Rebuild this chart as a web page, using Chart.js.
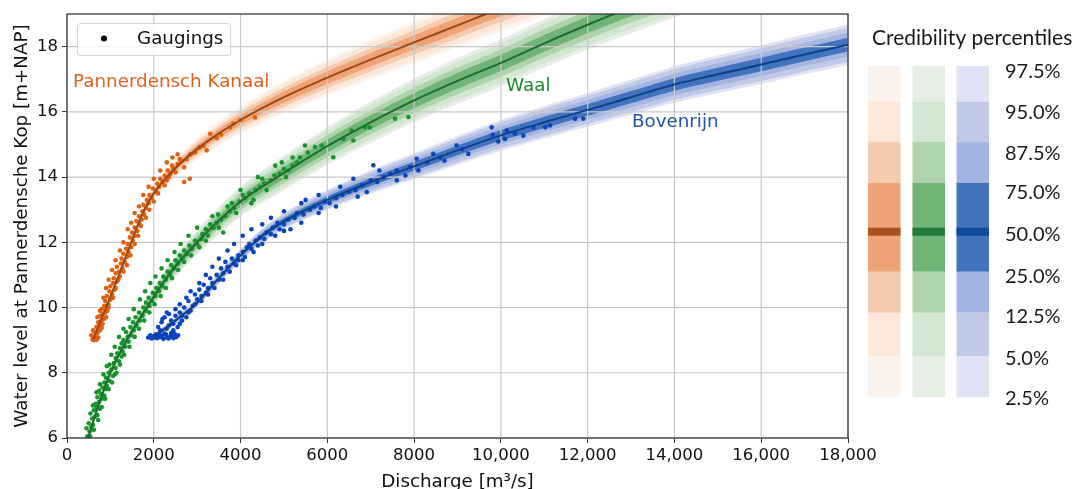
<!DOCTYPE html>
<html>
<head>
<meta charset="utf-8">
<title>Rating curves at Pannerdensche Kop</title>
<script src="https://cdn.jsdelivr.net/npm/chart.js@4.4.1/dist/chart.umd.min.js"></script>
<style>
  html, body { margin: 0; padding: 0; background: #fff; overflow: hidden; }
  canvas { display: block; }
</style>
</head>
<body>
<canvas id="ratingChart" width="1077" height="489"></canvas>
<script>
// ---- axis ticks ----
const xTicks = [0, 2000, 4000, 6000, 8000, 10000, 12000, 14000, 16000, 18000];
const xTickLabels = ['0', '2000', '4000', '6000', '8000', '10,000', '12,000', '14,000', '16,000', '18,000'];
const yTicks = [6, 8, 10, 12, 14, 16, 18];
const yTickLabels = ['6', '8', '10', '12', '14', '16', '18'];

// ---- median rating curves (discharge m3/s, water level m+NAP) ----
const qPK = [600, 900, 1200, 1480, 1750, 2000, 2300, 2800, 3400, 4000, 5000, 6000, 7000, 8000, 9000, 9600, 10200, 11000, 11600];
const hPK = [9.0, 10.0, 11.0, 12.0, 12.9, 13.5, 14.0, 14.65, 15.25, 15.75, 16.45, 17.05, 17.6, 18.13, 18.65, 18.97, 19.28, 19.68, 19.98];
const qWaal = [490, 700, 1000, 1400, 1840, 2400, 3000, 4000, 4850, 6000, 7000, 8000, 9000, 10000, 11000, 12000, 12600, 13200, 14000, 14800];
const hWaal = [6.0, 6.9, 8.0, 9.05, 10.0, 11.1, 12.0, 13.25, 14.0, 14.95, 15.68, 16.35, 16.95, 17.5, 18.1, 18.67, 19.0, 19.3, 19.72, 20.1];
const qBR = [2000, 2500, 3000, 3500, 4000, 4500, 5000, 6000, 7000, 8000, 9000, 10000, 11000, 12000, 13000, 14000, 15000, 16000, 17000, 18000];
const hBR = [9.1, 9.6, 10.15, 10.9, 11.6, 12.2, 12.65, 13.3, 13.85, 14.33, 14.82, 15.28, 15.68, 16.06, 16.45, 16.84, 17.15, 17.45, 17.76, 18.06];

// half width of the 2.5%-97.5% credibility interval at each curve point (m)
const spreadPK = [0.08, 0.1, 0.12, 0.14, 0.17, 0.2, 0.24, 0.3, 0.36, 0.42, 0.5, 0.56, 0.6, 0.64, 0.68, 0.7, 0.72, 0.74, 0.75];
const spreadWaal = [0.1, 0.12, 0.15, 0.2, 0.26, 0.32, 0.38, 0.46, 0.52, 0.58, 0.63, 0.67, 0.7, 0.72, 0.74, 0.76, 0.78, 0.8, 0.82, 0.84];
const spreadBR = [0.1, 0.12, 0.14, 0.17, 0.2, 0.23, 0.26, 0.31, 0.36, 0.4, 0.44, 0.47, 0.5, 0.52, 0.54, 0.56, 0.58, 0.6, 0.61, 0.62];

// credibility intervals, outer to inner, with their normal quantiles
const percentileLabels = ['97.5%', '95.0%', '87.5%', '75.0%', '50.0%', '25.0%', '12.5%', '5.0%', '2.5%'];
const intervalZ = [1.96, 1.645, 1.15, 0.674];

// ---- gaugings [discharge, water level] ----
const gaugingsPK = [
  [590, 9.02], [620, 9.0], [650, 9.04], [680, 9.01], [700, 9.06], [610, 9.1], [660, 9.12], [720, 9.08],
  [640, 9.25], [700, 9.22], [760, 9.3], [680, 9.4], [740, 9.45], [800, 9.38], [720, 9.55],
  [790, 9.6], [850, 9.65], [760, 9.75], [820, 9.8], [880, 9.85], [800, 9.95], [930, 9.9], [860, 10.05],
  [950, 10.1], [880, 10.2], [1000, 10.25], [920, 10.35], [1040, 10.4], [980, 10.5],
  [1100, 10.55], [1000, 10.65], [1060, 10.75], [1150, 10.8], [1080, 10.9], [1220, 10.95], [1120, 11.05],
  [1200, 11.1], [1280, 11.2], [1150, 11.25], [1240, 11.35], [1330, 11.4], [1260, 11.5],
  [1380, 11.55], [1300, 11.65], [1420, 11.7], [1360, 11.8], [1480, 11.85], [1400, 11.95],
  [1520, 12.05], [1450, 12.15], [1560, 12.2], [1500, 12.3], [1620, 12.35], [1560, 12.45],
  [1680, 12.55], [1600, 12.65], [1720, 12.7], [1660, 12.8], [1780, 12.85], [1740, 12.95],
  [1820, 13.05], [1760, 13.15], [1880, 13.2], [1840, 13.3], [1950, 13.35], [1900, 13.45],
  [2050, 13.55], [1980, 13.65], [2120, 13.7], [2080, 13.8], [2200, 13.85], [2150, 13.95], [2300, 13.9],
  [2250, 14.05], [2380, 14.1], [2320, 14.2], [2450, 14.25], [2420, 14.35], [2550, 14.4], [2430, 14.6],
  [2700, 13.85], [2830, 13.95],
  [2650, 14.5], [2760, 14.55], [2850, 14.7], [2950, 14.75], [3050, 14.9], [3150, 14.95], [3220, 14.82], [3060, 14.92],
  [3300, 15.33], [3450, 15.2], [3550, 15.3], [3760, 15.53], [3830, 15.63], [4000, 15.75], [4330, 15.83],
  [560, 9.15], [600, 9.3], [820, 9.5], [700, 9.7], [900, 9.7], [760, 9.9], [960, 10.0], [840, 10.3],
  [1060, 10.3], [900, 10.6], [1120, 10.6], [960, 10.85], [1180, 10.85], [1040, 11.15], [1300, 11.1],
  [1120, 11.45], [1380, 11.3], [1220, 11.75], [1460, 11.6], [1300, 12.0], [1560, 11.95], [1400, 12.4],
  [1640, 12.2], [1480, 12.6], [1700, 12.5], [1560, 12.9], [1820, 12.75], [1660, 13.1], [1900, 13.0],
  [1760, 13.45], [2000, 13.25], [1880, 13.7], [2100, 13.5], [2000, 13.95], [2250, 13.75], [2150, 14.2],
  [2350, 14.0], [2300, 14.45], [2500, 14.15], [2600, 14.55], [2550, 14.7], [2700, 14.3]
];
const gaugingsWaal = [
  [470, 6.05], [520, 6.2], [560, 6.35], [500, 6.45], [600, 6.4],
  [580, 6.6], [640, 6.65], [700, 6.7], [620, 6.85], [680, 6.95], [760, 6.9],
  [660, 7.05], [740, 7.1], [800, 7.2], [700, 7.25], [780, 7.35], [860, 7.3], [740, 7.45], [900, 7.5],
  [820, 7.55], [920, 7.6], [860, 7.7], [980, 7.75], [900, 7.85], [1060, 7.9], [960, 8.0], [1100, 7.95],
  [1020, 8.1], [1120, 8.15], [980, 8.25], [1080, 8.3], [1200, 8.35], [1120, 8.45], [1260, 8.5],
  [1160, 8.6], [1280, 8.65], [1220, 8.75], [1340, 8.8], [1260, 8.9], [1420, 8.95], [1300, 9.0],
  [1400, 9.1], [1480, 9.15], [1360, 9.25], [1540, 9.3], [1460, 9.4], [1600, 9.45], [1520, 9.55],
  [1680, 9.6], [1580, 9.7], [1740, 9.75], [1660, 9.85], [1820, 9.9], [1760, 10.0], [1900, 10.05],
  [1820, 10.15], [1960, 10.2], [1880, 10.3], [2040, 10.35], [1980, 10.45], [2120, 10.5],
  [2060, 10.6], [2200, 10.65], [2140, 10.75], [2280, 10.85], [2220, 10.95], [2380, 11.0],
  [2320, 11.1], [2460, 11.2], [2400, 11.3], [2560, 11.35], [2500, 11.45], [2660, 11.5],
  [2600, 11.6], [2760, 11.65], [2700, 11.75], [2880, 11.8], [2820, 11.9], [3000, 11.95], [3100, 12.1],
  [2950, 12.05], [3120, 12.25], [3250, 12.2], [3200, 12.4], [3380, 12.45], [3300, 12.55],
  [3450, 12.6], [3550, 12.7], [3480, 12.85], [3650, 12.8], [3750, 12.95], [3600, 12.3],
  [3850, 13.05], [3800, 13.2], [3980, 13.25], [4100, 13.35], [4050, 13.45], [4200, 13.5], [4300, 13.3],
  [4350, 13.6], [4450, 13.7], [4550, 13.8], [4500, 13.95], [4700, 13.9], [4780, 14.05],
  [4900, 14.1], [5000, 14.25], [5100, 14.2], [5200, 14.35], [4950, 14.45], [5300, 14.45],
  [5370, 14.6], [5485, 14.97], [5716, 14.92], [5870, 14.97], [5550, 14.75], [6137, 14.61],
  [6370, 15.17], [6600, 15.12], [6560, 15.43], [6870, 15.53], [6980, 15.53], [7560, 15.79], [7870, 15.84],
  [530, 6.05], [450, 6.3], [620, 6.25], [540, 6.75], [720, 6.55], [600, 7.0], [800, 6.95], [680, 7.4],
  [880, 7.2], [760, 7.65], [960, 7.5], [840, 7.95], [1040, 7.7], [920, 8.2], [1140, 8.0], [1020, 8.55],
  [1220, 8.25], [1100, 8.8], [1320, 8.55], [1200, 9.1], [1440, 8.8], [1300, 9.35], [1560, 9.1], [1420, 9.65],
  [1660, 9.35], [1540, 9.95], [1780, 9.6], [1680, 10.25], [1900, 9.85], [1800, 10.5], [2020, 10.1], [1920, 10.75],
  [2160, 10.35], [2040, 10.95], [2280, 10.6], [2180, 11.2], [2420, 10.9], [2320, 11.45], [2560, 11.15], [2480, 11.7],
  [2700, 11.4], [2620, 11.95], [2860, 11.6], [2800, 12.2], [3050, 11.85], [3000, 12.45], [3200, 12.05], [3350, 12.8],
  [3500, 12.45], [3700, 13.1], [3900, 12.9], [4000, 13.6], [4250, 13.2], [4400, 14.0], [4600, 13.6], [4800, 14.35],
  [5050, 14.0], [5200, 14.6]
];
const gaugingsBR = [
  [1870, 9.08], [1950, 9.05], [2000, 9.12], [2080, 9.06], [2150, 9.1], [2220, 9.04], [2300, 9.08],
  [2380, 9.12], [2450, 9.06], [2520, 9.1], [2050, 9.18], [2250, 9.2], [2400, 9.22],
  [2150, 9.3], [2300, 9.35], [2450, 9.3], [2550, 9.4], [2350, 9.45], [2600, 9.5], [2180, 9.55],
  [2250, 9.7], [2400, 9.6], [2650, 9.6], [2500, 9.75], [2750, 9.7], [2600, 9.85], [2850, 9.9], [2700, 10.0], [2300, 9.85],
  [2900, 10.05], [2800, 10.2], [3000, 10.25], [2950, 10.4], [3100, 10.35], [3200, 10.45], [3050, 10.55],
  [3250, 10.6], [3150, 10.7], [3350, 10.75], [3300, 10.9], [3500, 10.85], [3450, 11.0],
  [3600, 11.05], [3550, 11.2], [3700, 11.25], [3650, 11.4], [3850, 11.35], [3800, 11.5], [3950, 11.45],
  [3950, 11.6], [4050, 11.7], [4100, 11.55], [4150, 11.85], [4250, 11.8], [4200, 11.95], [4400, 11.9],
  [4350, 12.05], [4450, 12.15], [4550, 12.1], [4600, 12.3], [4700, 12.25], [4750, 12.45], [4900, 12.4],
  [4850, 12.6], [5000, 12.55], [5100, 12.7], [5250, 12.75], [5300, 12.9], [5450, 12.85], [5600, 13.0], [5150, 12.4],
  [5700, 13.1], [5850, 13.05], [5950, 13.25], [6050, 13.2], [6200, 13.35], [6350, 13.45], [5500, 13.3],
  [6500, 13.55], [6650, 13.6], [6800, 13.75], [6910, 13.54], [7000, 13.9], [7150, 13.85], [6600, 13.95],
  [7300, 14.0], [7450, 14.1], [7060, 14.36], [7600, 14.2], [7905, 14.31], [8058, 14.56], [7800, 14.05],
  [8300, 14.45], [8443, 14.71], [8600, 14.6], [8980, 14.97], [9250, 14.71], [9100, 14.85],
  [9788, 15.53], [9810, 15.3], [9940, 15.09], [10095, 15.17], [10134, 15.43], [10325, 15.33],
  [10517, 15.27], [10747, 15.53], [11023, 15.53], [11130, 15.58], [11710, 15.79], [11900, 15.79],
  [1920, 9.15], [2020, 9.08], [2120, 9.16], [2200, 9.14], [2280, 9.18], [2340, 9.05], [2420, 9.16], [2480, 9.2],
  [2560, 9.15], [2100, 9.4], [2200, 9.65], [2350, 9.8], [2450, 9.5], [2500, 9.95], [2650, 9.75], [2600, 10.1],
  [2800, 9.85], [2750, 10.3], [2950, 10.1], [2850, 10.5], [3100, 10.2], [3050, 10.75], [3250, 10.4], [3200, 11.0],
  [3400, 10.6], [3350, 11.25], [3600, 10.85], [3500, 11.5], [3750, 11.1], [3700, 11.75], [3900, 11.3], [3850, 11.95],
  [4050, 11.45], [4050, 12.2], [4300, 11.7], [4250, 12.4], [4500, 11.95], [4500, 12.55], [4800, 12.2], [4700, 12.75],
  [5000, 12.35], [5000, 12.95], [5400, 12.6], [5400, 13.2], [5800, 12.9], [5800, 13.45], [6200, 13.1], [6300, 13.7],
  [6700, 13.4], [7200, 14.2], [7600, 13.9], [8100, 14.2], [8700, 14.5]
];

// ---- styles ----
const FONT = 'DejaVu Sans';
const LEGEND_FONT = 'Lato';
const rivers = [
  { name: 'Pannerdensch Kanaal', q: qPK, h: hPK, spread: spreadPK, gaugings: gaugingsPK,
    line: '#9c4812', point: '#e0600f', text: '#e2621b',
    bands: ['#fdf3ed', '#fde7d9', '#f4cbae', '#eea476'], legendMedian: '#a8531f' },
  { name: 'Waal', q: qWaal, h: hWaal, spread: spreadWaal, gaugings: gaugingsWaal,
    line: '#1c6e2e', point: '#17952c', text: '#1f8a2b',
    bands: ['#e4eee3', '#d3e6d1', '#afd3ad', '#70b476'], legendMedian: '#217a3a' },
  { name: 'Bovenrijn', q: qBR, h: hBR, spread: spreadBR, gaugings: gaugingsBR,
    line: '#0c3f8c', point: '#0a45bf', text: '#2254a8',
    bands: ['#e0e3f6', '#c0c9e5', '#a3b5e0', '#4373bd'], legendMedian: '#0b4b9a' }
];
// where the river names sit, in data units
const nameAnchors = [[140, 16.9], [10120, 16.77], [13020, 15.67]];

const toXY = (xs, ys) => xs.map((x, i) => ({ x: x, y: ys[i] }));

const datasets = [];
// median lines on top
rivers.forEach(r => {
  datasets.push({
    data: toXY(r.q, r.h), borderColor: r.line, borderWidth: 2, pointRadius: 0,
    fill: false, cubicInterpolationMode: 'monotone'
  });
});
// gaugings
rivers.forEach(r => {
  datasets.push({
    data: r.gaugings.map(p => ({ x: p[0], y: p[1] })), showLine: false,
    pointRadius: 2.3, pointBackgroundColor: r.point, pointBorderWidth: 0, fill: false
  });
});
// credibility bands, innermost first so that they end up drawn last
const firstBand = datasets.length;
for (let k = intervalZ.length - 1; k >= 0; k--) {
  rivers.forEach(r => {
    const f = intervalZ[k] / intervalZ[0];
    datasets.push({
      data: toXY(r.q, r.h.map((h, i) => h + r.spread[i] * f)),
      borderWidth: 0, pointRadius: 0, fill: '+1', backgroundColor: r.bands[k],
      cubicInterpolationMode: 'monotone'
    });
    datasets.push({
      data: toXY(r.q, r.h.map((h, i) => h - r.spread[i] * f)),
      borderWidth: 0, pointRadius: 0, fill: false, cubicInterpolationMode: 'monotone'
    });
  });
}

// grid goes over the bands but under points and lines
const gridPlugin = {
  id: 'gridOverBands',
  afterDatasetDraw(chart, args) {
    if (args.index !== firstBand) return;
    const { ctx, chartArea: a, scales: { x, y } } = chart;
    ctx.save();
    ctx.strokeStyle = '#c9c9c9';
    ctx.lineWidth = 1.2;
    ctx.beginPath();
    xTicks.forEach(v => {
      const px = x.getPixelForValue(v);
      ctx.moveTo(px, a.top); ctx.lineTo(px, a.bottom);
    });
    yTicks.forEach(v => {
      const py = y.getPixelForValue(v);
      ctx.moveTo(a.left, py); ctx.lineTo(a.right, py);
    });
    ctx.stroke();
    ctx.restore();
  }
};

// frame, river names, gaugings legend and the percentile key
const decorPlugin = {
  id: 'decor',
  afterDraw(chart) {
    const { ctx, chartArea: a, scales: { x, y } } = chart;
    ctx.save();
    // axes frame
    ctx.strokeStyle = '#333';
    ctx.lineWidth = 1.25;
    ctx.strokeRect(a.left, a.top, a.right - a.left, a.bottom - a.top);

    // river names
    ctx.font = '18.3px "' + FONT + '"';
    ctx.textBaseline = 'middle';
    ctx.textAlign = 'left';
    rivers.forEach((r, i) => {
      ctx.fillStyle = r.text;
      ctx.fillText(r.name, x.getPixelForValue(nameAnchors[i][0]), y.getPixelForValue(nameAnchors[i][1]));
    });

    // gaugings legend box
    ctx.beginPath();
    ctx.roundRect(77.5, 23.5, 153, 32, 3);
    ctx.fillStyle = 'rgba(255,255,255,0.8)';
    ctx.fill();
    ctx.strokeStyle = '#d4d4d4';
    ctx.lineWidth = 1;
    ctx.stroke();
    ctx.beginPath();
    ctx.arc(104, 38.5, 3, 0, Math.PI * 2);
    ctx.fillStyle = '#000';
    ctx.fill();
    ctx.fillStyle = '#111';
    ctx.fillText('Gaugings', 137, 39);

    // percentile key
    ctx.fillStyle = '#1a1a1a';
    ctx.font = '21px "' + LEGEND_FONT + '"';
    ctx.fillText('Credibility percentiles', 872, 38);
    ctx.font = '20px "' + LEGEND_FONT + '"';
    const colX = [868, 912.5, 956.5];
    const colW = 32.5;
    const rows = [[66, 101.7, 356, 397.3], [101.7, 141.7, 312.7, 356], [141.7, 182.7, 271.7, 312.7], [182.7, 271.7]];
    rivers.forEach((r, c) => {
      rows.forEach((rw, k) => {
        ctx.fillStyle = r.bands[k];
        ctx.fillRect(colX[c], rw[0], colW, rw[1] - rw[0]);
        if (rw.length === 4) ctx.fillRect(colX[c], rw[2], colW, rw[3] - rw[2]);
      });
      ctx.fillStyle = r.legendMedian;
      ctx.fillRect(colX[c], 227.7, colW, 8);
    });
    const labelY = [71.7, 113, 154, 192.7, 235, 276.7, 317, 359, 398.3];
    ctx.fillStyle = '#1a1a1a';
    percentileLabels.forEach((t, i) => ctx.fillText(t, 1005, labelY[i]));
    ctx.restore();
  }
};

new Chart(document.getElementById('ratingChart'), {
  type: 'line',
  data: { datasets: datasets },
  options: {
    responsive: false,
    animation: false,
    devicePixelRatio: 1,
    layout: { padding: { left: 0, top: 14, right: 229, bottom: 0 } },
    plugins: {
      legend: { display: false },
      tooltip: { enabled: false }
    },
    scales: {
      x: {
        type: 'linear', min: 0, max: 18000,
        afterBuildTicks: s => { s.ticks = xTicks.map(v => ({ value: v })); },
        afterFit: s => { s.height = 51; },
        ticks: {
          callback: (v, i) => xTickLabels[i], autoSkip: false, maxRotation: 0,
          color: '#111', font: { family: FONT, size: 16.5 }, padding: 3
        },
        grid: { drawOnChartArea: false, tickLength: 5, tickColor: '#333', tickWidth: 1 },
        border: { display: false },
        title: {
          display: true, text: 'Discharge [m\u00b3/s]', color: '#111',
          font: { family: FONT, size: 18.3, lineHeight: 0.93 }, padding: { top: 0, bottom: -1.5 }
        }
      },
      y: {
        type: 'linear', min: 6, max: 19,
        afterBuildTicks: s => { s.ticks = yTicks.map(v => ({ value: v })); },
        afterFit: s => { s.width = 67; },
        ticks: {
          callback: (v, i) => yTickLabels[i], autoSkip: false,
          color: '#111', font: { family: FONT, size: 16.5 }, padding: 4
        },
        grid: { drawOnChartArea: false, tickLength: 5, tickColor: '#333', tickWidth: 1 },
        border: { display: false },
        title: {
          display: true, text: 'Water level at Pannerdensche Kop [m+NAP]', color: '#111',
          font: { family: FONT, size: 18.3, lineHeight: 0.93 }, padding: { top: 13.5, bottom: 0 }
        }
      }
    }
  },
  plugins: [gridPlugin, decorPlugin]
});
</script>
</body>
</html>
